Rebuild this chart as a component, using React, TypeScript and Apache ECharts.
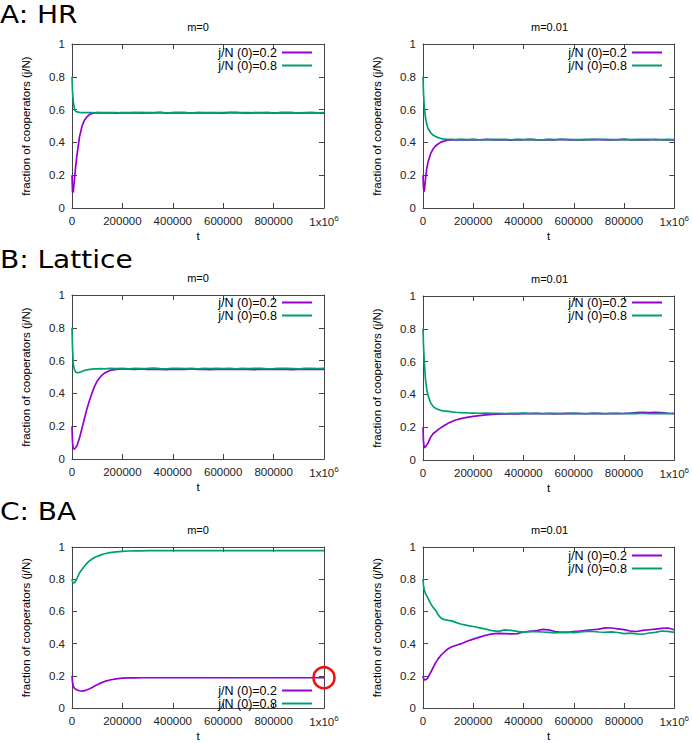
import React, { useEffect, useRef } from 'react';
import * as echarts from 'echarts';

// time points (t)
const T = [0, 2000, 5000, 10000, 15000, 20000, 30000, 40000, 50000, 60000,
  70000, 80000, 90000, 100000, 115000, 130000, 150000, 175000, 200000, 225000,
  250000, 275000, 300000, 325000, 350000, 375000, 400000, 425000, 450000, 475000,
  500000, 525000, 550000, 575000, 600000, 625000, 650000, 675000, 700000, 725000,
  750000, 775000, 800000, 825000, 850000, 875000, 900000, 925000, 950000, 975000,
  1000000];

const X_TICKS = [0, 200000, 400000, 600000, 800000, 1000000];
const Y_TICKS = [0, 0.2, 0.4, 0.6, 0.8, 1];

const NAME_02 = 'j/N (0)=0.2';
const NAME_08 = 'j/N (0)=0.8';

// A: HR, m=0
const hrP0 = [0.2, 0.095, 0.1, 0.18, 0.26, 0.325, 0.435, 0.5, 0.537, 0.557,
  0.57, 0.577, 0.58, 0.581, 0.58, 0.581, 0.58, 0.579, 0.582, 0.58,
  0.581, 0.579, 0.582, 0.58, 0.583, 0.579, 0.581, 0.58, 0.582, 0.579,
  0.581, 0.58, 0.582, 0.58, 0.579, 0.581, 0.583, 0.58, 0.579, 0.581,
  0.58, 0.582, 0.579, 0.581, 0.58, 0.582, 0.579, 0.58, 0.581, 0.58,
  0.579];
const hrG0 = [0.8, 0.71, 0.65, 0.6, 0.59, 0.586, 0.583, 0.582, 0.581, 0.582,
  0.581, 0.582, 0.58, 0.581, 0.582, 0.58, 0.582, 0.581, 0.58, 0.582,
  0.581, 0.583, 0.58, 0.581, 0.582, 0.58, 0.581, 0.583, 0.581, 0.58,
  0.582, 0.581, 0.58, 0.582, 0.581, 0.583, 0.58, 0.581, 0.582, 0.58,
  0.581, 0.582, 0.58, 0.581, 0.583, 0.581, 0.58, 0.582, 0.581, 0.58,
  0.582];
// A: HR, m=0.01
const hrP1 = [0.2, 0.12, 0.1, 0.18, 0.24, 0.28, 0.33, 0.36, 0.378, 0.39,
  0.4, 0.406, 0.41, 0.413, 0.415, 0.416, 0.417, 0.415, 0.417, 0.416,
  0.418, 0.415, 0.417, 0.416, 0.414, 0.417, 0.416, 0.418, 0.415, 0.416,
  0.417, 0.415, 0.418, 0.416, 0.417, 0.415, 0.416, 0.418, 0.417, 0.415,
  0.416, 0.417, 0.418, 0.416, 0.415, 0.417, 0.416, 0.418, 0.416, 0.415,
  0.416];
const hrG1 = [0.8, 0.7, 0.62, 0.55, 0.51, 0.485, 0.46, 0.445, 0.436, 0.429,
  0.425, 0.422, 0.42, 0.419, 0.418, 0.417, 0.418, 0.417, 0.418, 0.416,
  0.417, 0.419, 0.417, 0.418, 0.416, 0.418, 0.417, 0.419, 0.417, 0.416,
  0.418, 0.417, 0.419, 0.418, 0.416, 0.417, 0.418, 0.417, 0.419, 0.418,
  0.417, 0.416, 0.418, 0.417, 0.419, 0.417, 0.418, 0.416, 0.417, 0.418,
  0.417];
// B: Lattice, m=0
const latP0 = [0.2, 0.1, 0.062, 0.062, 0.07, 0.082, 0.13, 0.19, 0.25, 0.31,
  0.36, 0.405, 0.445, 0.475, 0.505, 0.525, 0.54, 0.546, 0.549, 0.548,
  0.547, 0.549, 0.546, 0.548, 0.547, 0.545, 0.548, 0.546, 0.547, 0.549,
  0.546, 0.547, 0.545, 0.548, 0.546, 0.547, 0.548, 0.546, 0.547, 0.545,
  0.548, 0.547, 0.546, 0.548, 0.547, 0.545, 0.547, 0.548, 0.546, 0.547,
  0.546];
const latG0 = [0.8, 0.68, 0.58, 0.545, 0.53, 0.526, 0.528, 0.535, 0.54, 0.544,
  0.546, 0.548, 0.549, 0.55, 0.551, 0.55, 0.552, 0.551, 0.552, 0.55,
  0.553, 0.551, 0.552, 0.554, 0.551, 0.55, 0.552, 0.553, 0.551, 0.552,
  0.55, 0.553, 0.551, 0.552, 0.551, 0.553, 0.55, 0.552, 0.551, 0.553,
  0.552, 0.55, 0.551, 0.553, 0.552, 0.551, 0.55, 0.552, 0.553, 0.551,
  0.552];
// B: Lattice, m=0.01
const latP1 = [0.2, 0.11, 0.075, 0.08, 0.092, 0.104, 0.138, 0.16, 0.172, 0.185,
  0.196, 0.206, 0.215, 0.224, 0.235, 0.244, 0.252, 0.26, 0.266, 0.271,
  0.275, 0.278, 0.28, 0.281, 0.282, 0.281, 0.283, 0.282, 0.284, 0.282,
  0.283, 0.281, 0.283, 0.284, 0.282, 0.283, 0.282, 0.284, 0.283, 0.282,
  0.283, 0.283, 0.284, 0.286, 0.289, 0.29, 0.289, 0.291, 0.289, 0.285,
  0.283];
const latG1 = [0.8, 0.7, 0.6, 0.49, 0.43, 0.395, 0.35, 0.327, 0.315, 0.308,
  0.303, 0.3, 0.298, 0.296, 0.293, 0.291, 0.289, 0.287, 0.286, 0.285,
  0.286, 0.284, 0.285, 0.283, 0.285, 0.284, 0.286, 0.284, 0.285, 0.283,
  0.284, 0.285, 0.283, 0.284, 0.286, 0.284, 0.283, 0.285, 0.284, 0.283,
  0.285, 0.284, 0.282, 0.284, 0.283, 0.285, 0.283, 0.282, 0.284, 0.283,
  0.284];
// C: BA, m=0
const baP0 = [0.2, 0.16, 0.135, 0.122, 0.116, 0.112, 0.107, 0.105, 0.108, 0.113,
  0.12, 0.128, 0.137, 0.145, 0.156, 0.165, 0.174, 0.181, 0.185, 0.187,
  0.187, 0.188, 0.188, 0.188, 0.188, 0.188, 0.188, 0.188, 0.188, 0.188,
  0.188, 0.188, 0.188, 0.188, 0.188, 0.188, 0.188, 0.188, 0.188, 0.188,
  0.188, 0.188, 0.188, 0.188, 0.188, 0.188, 0.188, 0.188, 0.188, 0.188,
  0.188];
const baG0 = [0.8, 0.785, 0.777, 0.778, 0.79, 0.805, 0.84, 0.862, 0.882, 0.9,
  0.915, 0.925, 0.935, 0.942, 0.951, 0.958, 0.965, 0.97, 0.973, 0.975,
  0.976, 0.976, 0.977, 0.977, 0.977, 0.977, 0.977, 0.977, 0.977, 0.977,
  0.977, 0.977, 0.977, 0.977, 0.977, 0.977, 0.977, 0.977, 0.977, 0.977,
  0.977, 0.977, 0.977, 0.977, 0.977, 0.977, 0.977, 0.977, 0.977, 0.977,
  0.977];
// C: BA, m=0.01
const baP1 = [0.2, 0.185, 0.175, 0.176, 0.18, 0.19, 0.22, 0.25, 0.28, 0.305,
  0.325, 0.34, 0.355, 0.368, 0.38, 0.388, 0.398, 0.415, 0.428, 0.44,
  0.452, 0.46, 0.464, 0.462, 0.46, 0.462, 0.472, 0.476, 0.48, 0.488,
  0.485, 0.475, 0.47, 0.47, 0.474, 0.478, 0.482, 0.486, 0.49, 0.498,
  0.497, 0.492, 0.487, 0.478, 0.475, 0.482, 0.486, 0.49, 0.494, 0.497,
  0.486];
const baG1 = [0.8, 0.76, 0.735, 0.71, 0.695, 0.683, 0.65, 0.625, 0.607, 0.58,
  0.56, 0.552, 0.547, 0.544, 0.541, 0.532, 0.522, 0.513, 0.506, 0.498,
  0.49, 0.48, 0.476, 0.485, 0.482, 0.476, 0.47, 0.476, 0.474, 0.472,
  0.47, 0.466, 0.47, 0.471, 0.468, 0.473, 0.476, 0.475, 0.472, 0.47,
  0.473, 0.469, 0.462, 0.465, 0.46, 0.458, 0.466, 0.47, 0.478, 0.476,
  0.47];

const PURPLE = '#9400D3';
const GREEN = '#009E73';
const FRAME = '#444';
const FONT = '"Liberation Sans", Arial, sans-serif';

const panels = [
  { grid: { left: 72, top: 44, width: 252, height: 164 }, p: hrP0, g: hrG0, sub: 'm=0', subY: 27, legend: { right: 380, top: 46 } },
  { grid: { left: 423, top: 44, width: 253, height: 164 }, p: hrP1, g: hrG1, sub: 'm=0.01', subY: 27, legend: { right: 30, top: 46 } },
  { grid: { left: 72, top: 295, width: 252, height: 164 }, p: latP0, g: latG0, sub: 'm=0', subY: 278, legend: { right: 380, top: 296 } },
  { grid: { left: 423, top: 296, width: 253, height: 164 }, p: latP1, g: latG1, sub: 'm=0.01', subY: 279, legend: { right: 30, top: 296 } },
  { grid: { left: 72, top: 547, width: 252, height: 163 }, p: baP0, g: baG0, sub: 'm=0', subY: 530, legend: { right: 380, top: 684 } },
  { grid: { left: 423, top: 547, width: 253, height: 163 }, p: baP1, g: baG1, sub: 'm=0.01', subY: 530, legend: { right: 30, top: 549 } },
];

const headings = [
  { text: 'A: HR', y: 14 },
  { text: 'B: Lattice', y: 259 },
  { text: 'C: BA', y: 511 },
];

const zip = (vals: number[]) => T.map((t, i) => [t, vals[i]]);

export default function App() {
  const ref = useRef<HTMLDivElement>(null);
  useEffect(() => {
    if (!ref.current) return;
    const chart = echarts.init(ref.current, null, { renderer: 'svg' });
    const xAxis: any[] = [];
    const yAxis: any[] = [];
    const series: any[] = [];
    const legend: any[] = [];
    const graphic: any[] = [];
    const tickCommon = { show: true, inside: true, length: 5, lineStyle: { color: FRAME, width: 1 } };
    const lineCommon = { show: true, lineStyle: { color: FRAME, width: 1 } };
    panels.forEach((pn, i) => {
      xAxis.push({
        type: 'value', gridIndex: i, min: X_TICKS[0], max: X_TICKS[X_TICKS.length - 1], interval: X_TICKS[1] - X_TICKS[0],
        position: 'bottom', axisLine: { ...lineCommon, onZero: false }, axisTick: tickCommon, splitLine: { show: false },
        name: 't', nameLocation: 'middle', nameGap: 22, nameTextStyle: { fontSize: 11.5, color: '#000', fontFamily: FONT },
        axisLabel: {
          fontSize: 11.5, color: '#222', margin: 6, lineHeight: 14, fontFamily: FONT, showMinLabel: true, showMaxLabel: true,
          formatter: (v: number) => (v === 1000000 ? '{a|1x10}{s|6}' : String(v)),
          rich: {
            a: { fontSize: 11.5, color: '#222', lineHeight: 14, verticalAlign: 'bottom', fontFamily: FONT },
            s: { fontSize: 8, color: '#222', lineHeight: 6, verticalAlign: 'top', fontFamily: FONT },
          },
        },
      });
      xAxis.push({
        type: 'value', gridIndex: i, min: X_TICKS[0], max: X_TICKS[X_TICKS.length - 1], interval: X_TICKS[1] - X_TICKS[0],
        position: 'top', axisLine: { ...lineCommon, onZero: false }, axisTick: tickCommon, splitLine: { show: false }, axisLabel: { show: false },
      });
      yAxis.push({
        type: 'value', gridIndex: i, min: Y_TICKS[0], max: Y_TICKS[Y_TICKS.length - 1], interval: Y_TICKS[1] - Y_TICKS[0],
        position: 'left', axisLine: { ...lineCommon, onZero: false }, axisTick: tickCommon, splitLine: { show: false },
        name: 'fraction of cooperators (j/N)', nameLocation: 'middle', nameGap: 40,
        nameTextStyle: { fontSize: 11.5, color: '#000', fontFamily: FONT },
        axisLabel: { fontSize: 11.5, color: '#222', margin: 7, fontFamily: FONT, showMinLabel: true, showMaxLabel: true },
      });
      yAxis.push({
        type: 'value', gridIndex: i, min: Y_TICKS[0], max: Y_TICKS[Y_TICKS.length - 1], interval: Y_TICKS[1] - Y_TICKS[0],
        position: 'right', axisLine: { ...lineCommon, onZero: false }, axisTick: tickCommon, splitLine: { show: false }, axisLabel: { show: false },
      });
      series.push({
        type: 'line', name: NAME_02, xAxisIndex: 2 * i, yAxisIndex: 2 * i, data: zip(pn.p), showSymbol: false, symbol: 'none',
        lineStyle: { color: PURPLE, width: 1.7 }, itemStyle: { color: PURPLE }, clip: true,
      });
      series.push({
        type: 'line', name: NAME_08, xAxisIndex: 2 * i, yAxisIndex: 2 * i, data: zip(pn.g), showSymbol: false, symbol: 'none',
        lineStyle: { color: GREEN, width: 1.7 }, itemStyle: { color: GREEN }, clip: true,
      });
      legend.push({
        data: [NAME_02, NAME_08], orient: 'vertical', align: 'right', icon: 'rect', itemWidth: 30, itemHeight: 2, itemGap: 0,
        padding: 0, right: pn.legend.right, top: pn.legend.top, selectedMode: false,
        textStyle: { fontSize: 12.5, lineHeight: 11, color: '#000', fontFamily: FONT },
      });
      graphic.push({
        type: 'text', x: pn.grid.left + pn.grid.width / 2, y: pn.subY,
        style: { text: pn.sub, fontSize: 11, fontFamily: FONT, fill: '#000', align: 'center', verticalAlign: 'middle' },
      });
    });
    headings.forEach((h) => {
      graphic.push({
        type: 'text', x: 0, y: h.y, scaleX: 1.12,
        style: { text: h.text, fontSize: 25, lineHeight: 24, fontFamily: '"DejaVu Sans", sans-serif', fill: '#000', verticalAlign: 'middle' },
      });
    });
    chart.setOption({
      animation: false,
      textStyle: { fontFamily: FONT },
      grid: panels.map((p) => ({ ...p.grid })),
      xAxis, yAxis, series, legend, graphic,
    });
    const c = chart.convertToPixel({ xAxisIndex: 8, yAxisIndex: 8 } as any, [T[T.length - 1], baP0[baP0.length - 1]]) as number[];
    graphic.push({
      type: 'circle', shape: { cx: c[0], cy: c[1], r: 10.5 },
      style: { fill: 'none', stroke: '#ee1111', lineWidth: 2.5 }, z: 100,
    });
    chart.setOption({ graphic });
    return () => chart.dispose();
  }, []);
  return <div ref={ref} style={{ position: 'fixed', left: 0, top: 0, width: 692, height: 743, background: '#fff' }} />;
}
